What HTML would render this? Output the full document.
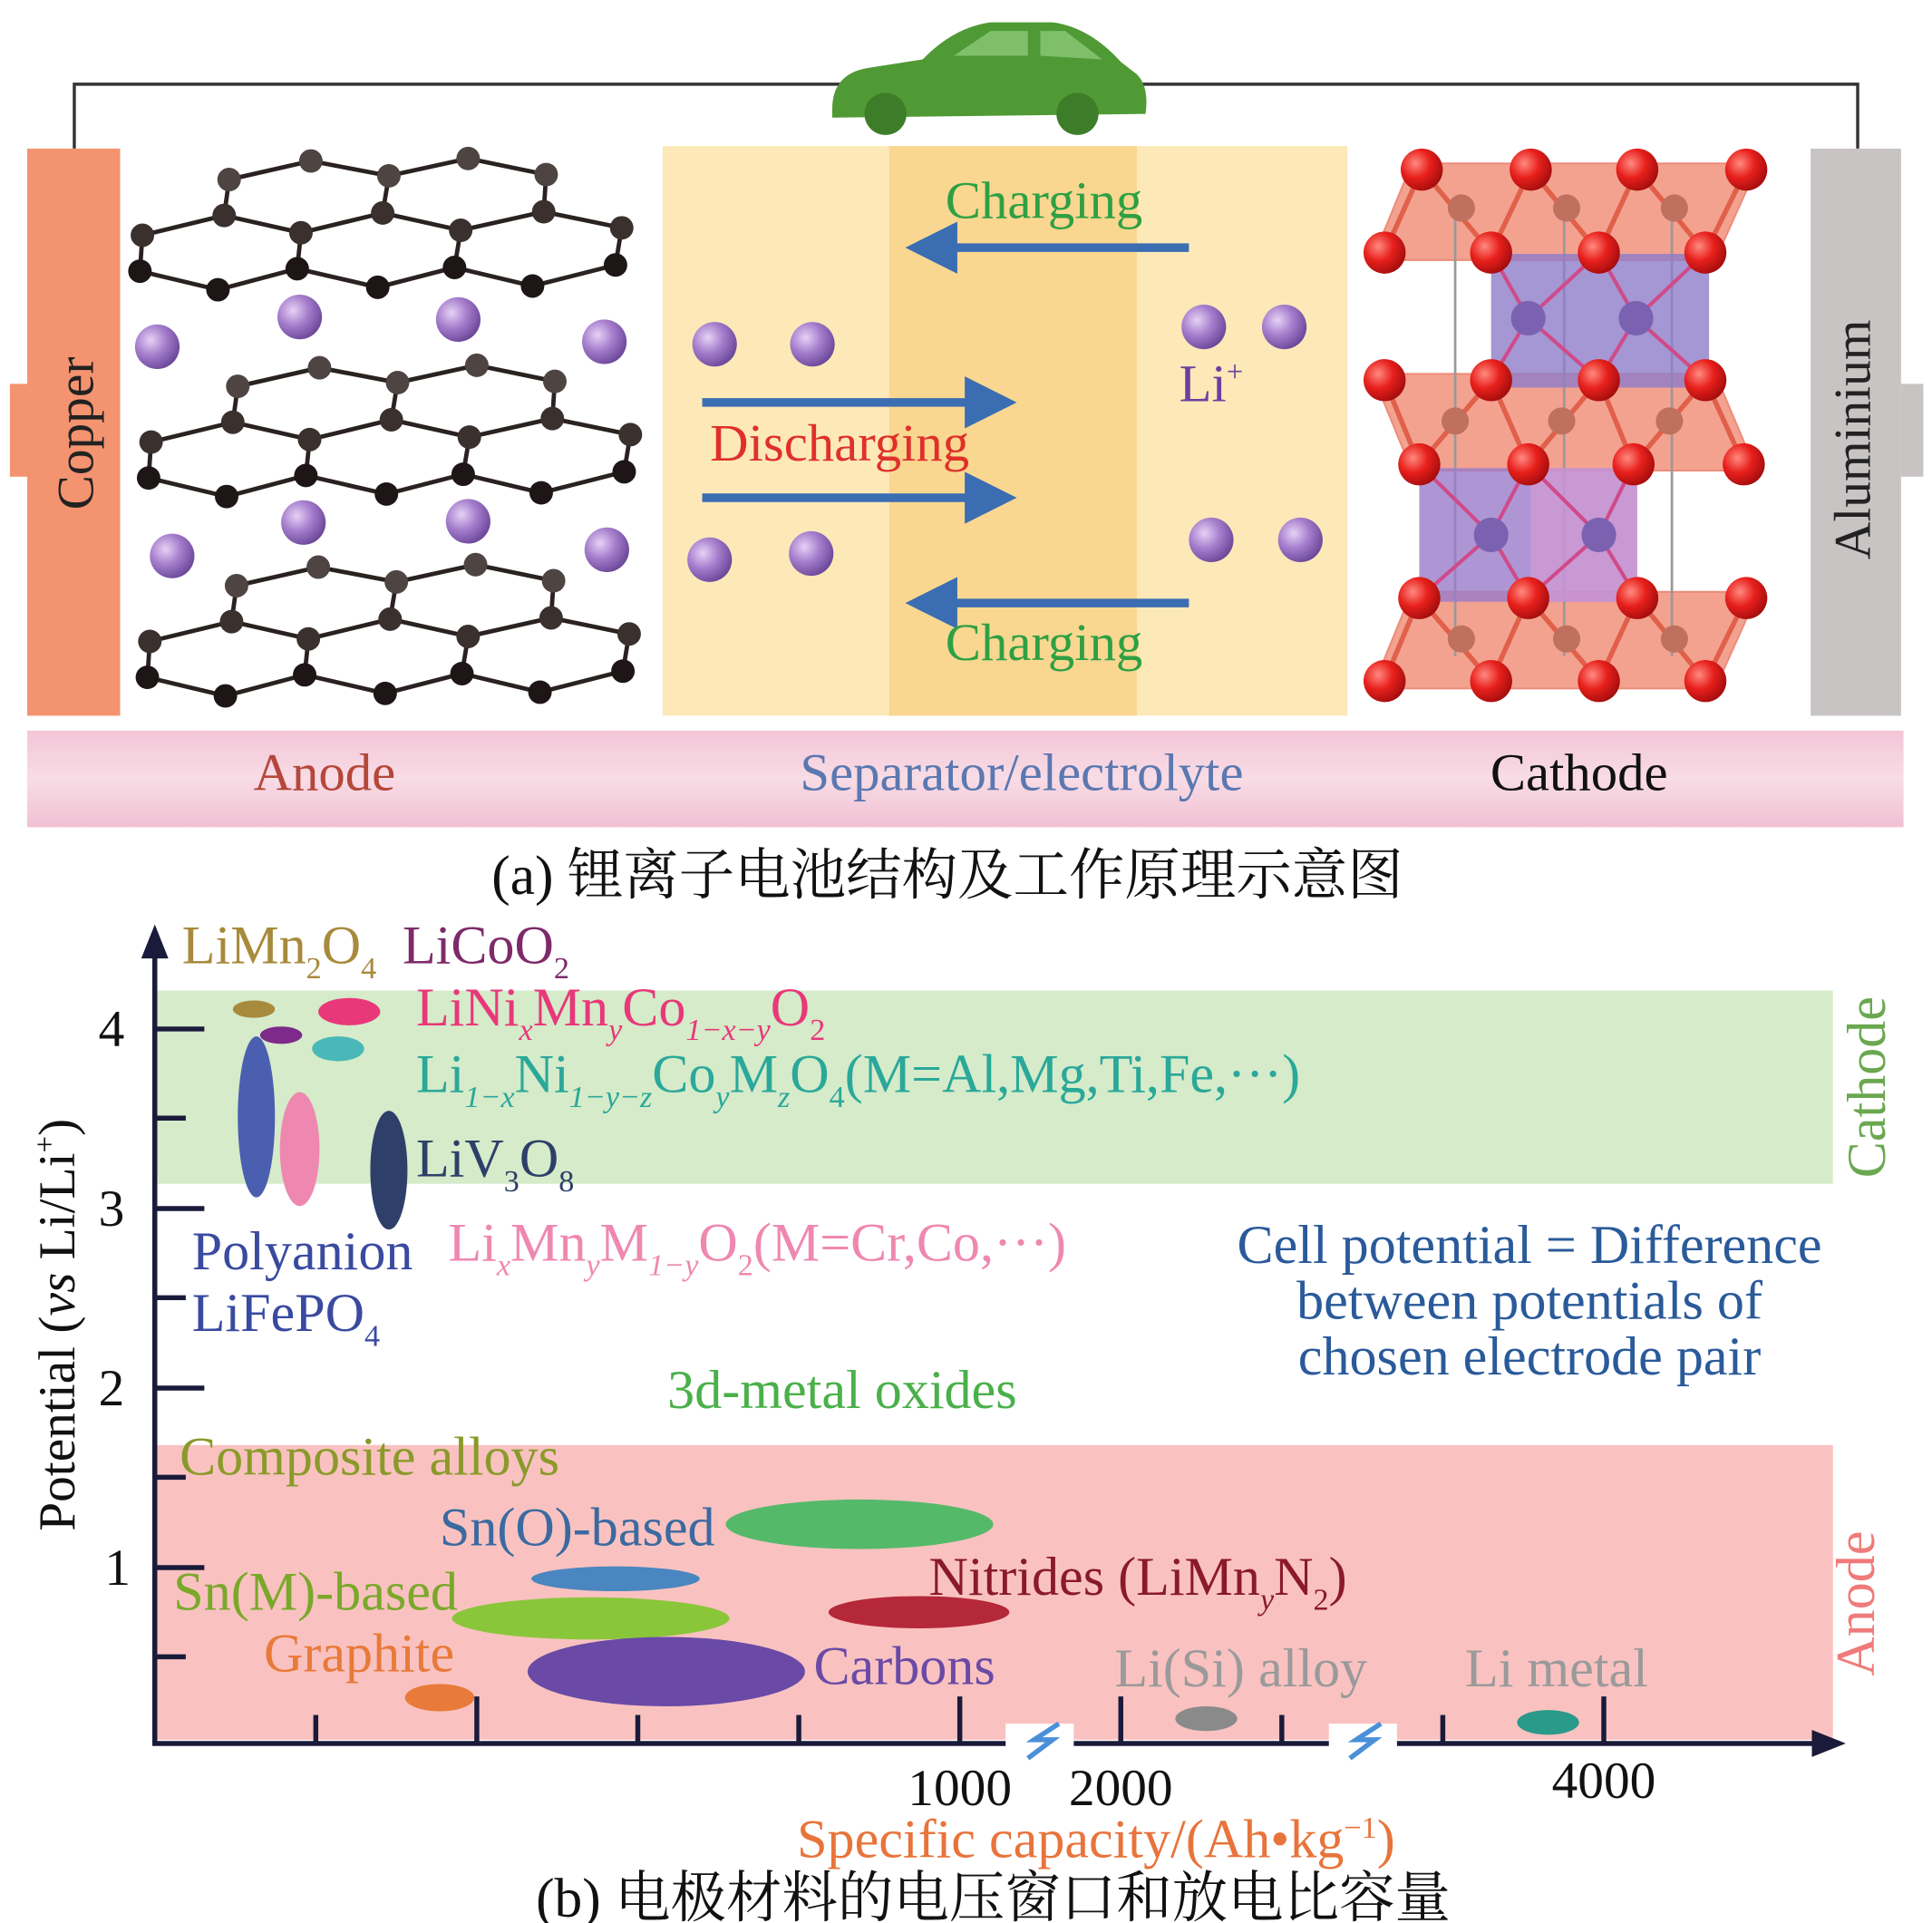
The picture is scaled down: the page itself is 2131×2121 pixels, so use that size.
<!DOCTYPE html>
<html><head><meta charset="utf-8"><style>
html,body{margin:0;padding:0;background:#fff}
svg{display:block}
text{font-family:"Liberation Serif","Noto Serif CJK SC",serif}
</style></head><body>
<svg width="2131" height="2121" viewBox="0 0 1560 1553" preserveAspectRatio="none" xmlns="http://www.w3.org/2000/svg">
<defs>
<radialGradient id="li" cx="35%" cy="35%" r="70%"><stop offset="0" stop-color="#e6d2f5"/><stop offset="0.5" stop-color="#a57dcc"/><stop offset="1" stop-color="#6b4799"/></radialGradient>
<radialGradient id="ox" cx="35%" cy="35%" r="70%"><stop offset="0" stop-color="#ff8a80"/><stop offset="0.5" stop-color="#e8201c"/><stop offset="1" stop-color="#a30d0d"/></radialGradient>
<linearGradient id="pk" x1="0" y1="0" x2="0" y2="1"><stop offset="0" stop-color="#f3c6d7"/><stop offset="0.5" stop-color="#f8dce6"/><stop offset="1" stop-color="#f1c0d2"/></linearGradient>
<marker id="ah" markerWidth="6" markerHeight="6" refX="3" refY="3" orient="auto"><path d="M0,0 L6,3 L0,6 z" fill="#3b6db3"/></marker>
<marker id="a1" markerUnits="userSpaceOnUse" markerWidth="24" markerHeight="24" refX="12" refY="12"><circle cx="12" cy="12" r="9.5" fill="#4e4442"/></marker>
<marker id="a2" markerUnits="userSpaceOnUse" markerWidth="24" markerHeight="24" refX="12" refY="12"><circle cx="12" cy="12" r="9.5" fill="#3a302e"/></marker>
<marker id="a3" markerUnits="userSpaceOnUse" markerWidth="24" markerHeight="24" refX="12" refY="12"><circle cx="12" cy="12" r="9.5" fill="#1e1616"/></marker>
<marker id="oxm" markerUnits="userSpaceOnUse" markerWidth="40" markerHeight="40" refX="20" refY="20"><circle cx="20" cy="20" r="17" fill="url(#ox)"/></marker>
<marker id="mm" markerUnits="userSpaceOnUse" markerWidth="30" markerHeight="30" refX="15" refY="15"><circle cx="15" cy="15" r="11" fill="#c0705e"/></marker>
<g id="layer" stroke="#2a2220" stroke-width="3.5" fill="none">
<path d="M185,145 L181,174 M314,142 L309,172 M441,141 L439,171 M115,190 L113,219 M243,188 L240,217 M372,186 L367,216 M502,184 L497,214"/>
<polyline points="185,145 251,130 314,142 378,128 441,141" marker-start="url(#a1)" marker-mid="url(#a1)" marker-end="url(#a1)"/>
<polyline points="115,190 181,174 243,188 309,172 372,186 439,171 502,184" marker-start="url(#a2)" marker-mid="url(#a2)" marker-end="url(#a2)"/>
<polyline points="113,219 176,234 240,217 305,232 367,216 430,231 497,214" marker-start="url(#a3)" marker-mid="url(#a3)" marker-end="url(#a3)"/>
</g>
</defs>
<rect width="1560" height="1553" fill="#fff"/>
<polyline points="60,120 60,68 1500,68 1500,120" fill="none" stroke="#333" stroke-width="2.5"/>
<g fill="#4f9a35">
<path d="M672,88 Q672,60 700,55 L745,48 Q770,22 800,18 L850,18 Q880,22 905,50 L918,60 Q928,70 925,92 L672,95 z"/>
<circle cx="715" cy="92" r="17" fill="#3d7d29"/><circle cx="870" cy="92" r="17" fill="#3d7d29"/>
<path d="M770,45 L800,25 L830,25 L830,45 z M840,45 L840,25 L860,25 L890,48 z" fill="#7fbf6a"/>
</g>
<rect x="8" y="310" width="16" height="75" fill="#f4936f"/>
<rect x="22" y="120" width="75" height="458" fill="#f4936f"/>
<text transform="translate(75,350) rotate(-90)" text-anchor="middle" font-size="42" fill="#222">Copper</text>
<rect x="1535" y="310" width="18" height="75" fill="#c8c4c4"/>
<rect x="1462" y="120" width="73" height="458" fill="#c8c4c4"/>
<text transform="translate(1510,355) rotate(-90)" text-anchor="middle" font-size="42" fill="#222">Aluminium</text>
<rect x="535" y="118" width="553" height="460" fill="#fde9b8"/>
<rect x="718" y="118" width="200" height="460" fill="#f9d790"/>
<use href="#layer"/>
<use href="#layer" transform="translate(7,167)"/>
<use href="#layer" transform="translate(6,328)"/>
<g fill="#f28b75" opacity="0.8" stroke="#e8705a" stroke-width="1.5">
<polygon points="1140,132 1420,132 1385,210 1108,210"/>
<polygon points="1108,302 1385,302 1418,380 1140,380"/>
<polygon points="1140,478 1420,478 1385,556 1108,556"/>
</g>
<g stroke="#e0604a" stroke-width="4">
<path d="M1148,137 L1118,204 M1148,137 L1204,204 M1236,137 L1204,204 M1236,137 L1291,204 M1322,137 L1291,204 M1322,137 L1377,204 M1410,137 L1377,204"/>
<path d="M1118,307 L1146,375 M1204,307 L1146,375 M1204,307 L1234,375 M1291,307 L1234,375 M1291,307 L1319,375 M1377,307 L1319,375 M1377,307 L1408,375"/>
<path d="M1146,483 L1118,550 M1146,483 L1204,550 M1234,483 L1204,550 M1234,483 L1291,550 M1322,483 L1291,550 M1322,483 L1377,550 M1410,483 L1377,550"/>
</g>
<g stroke="#999" stroke-width="2"><line x1="1175" y1="160" x2="1175" y2="530"/><line x1="1263" y1="160" x2="1263" y2="530"/><line x1="1350" y1="160" x2="1350" y2="530"/></g>
<rect x="1204" y="205" width="176" height="108" fill="#8e7cc9" opacity="0.8"/>
<rect x="1146" y="378" width="176" height="108" fill="#9a7cc9" opacity="0.8"/>
<rect x="1236" y="378" width="86" height="108" fill="#d49ad4" opacity="0.7"/>
<g stroke="#d04a8a" stroke-width="3">
<path d="M1234,257 L1204,204 M1234,257 L1291,204 M1234,257 L1204,307 M1234,257 L1291,307"/>
<path d="M1321,257 L1291,204 M1321,257 L1377,204 M1321,257 L1291,307 M1321,257 L1377,307"/>
<path d="M1204,432 L1146,375 M1204,432 L1234,375 M1204,432 L1146,483 M1204,432 L1234,483"/>
<path d="M1291,432 L1234,375 M1291,432 L1319,375 M1291,432 L1234,483 M1291,432 L1322,483"/>
</g>
<g fill="#7a62b0"><circle cx="1234" cy="257" r="14"/><circle cx="1321" cy="257" r="14"/><circle cx="1204" cy="432" r="14"/><circle cx="1291" cy="432" r="14"/></g>
<g stroke="none" fill="none">
<polyline points="1180,168 1265,168 1352,168" marker-start="url(#mm)" marker-mid="url(#mm)" marker-end="url(#mm)"/>
<polyline points="1175,340 1261,340 1348,340" marker-start="url(#mm)" marker-mid="url(#mm)" marker-end="url(#mm)"/>
<polyline points="1180,516 1265,516 1352,516" marker-start="url(#mm)" marker-mid="url(#mm)" marker-end="url(#mm)"/>
<polyline points="1148,137 1236,137 1322,137 1410,137" marker-start="url(#oxm)" marker-mid="url(#oxm)" marker-end="url(#oxm)"/>
<polyline points="1118,204 1204,204 1291,204 1377,204" marker-start="url(#oxm)" marker-mid="url(#oxm)" marker-end="url(#oxm)"/>
<polyline points="1118,307 1204,307 1291,307 1377,307" marker-start="url(#oxm)" marker-mid="url(#oxm)" marker-end="url(#oxm)"/>
<polyline points="1146,375 1234,375 1319,375 1408,375" marker-start="url(#oxm)" marker-mid="url(#oxm)" marker-end="url(#oxm)"/>
<polyline points="1146,483 1234,483 1322,483 1410,483" marker-start="url(#oxm)" marker-mid="url(#oxm)" marker-end="url(#oxm)"/>
<polyline points="1118,550 1204,550 1291,550 1377,550" marker-start="url(#oxm)" marker-mid="url(#oxm)" marker-end="url(#oxm)"/>
</g>
<g fill="url(#li)">
<circle cx="127" cy="280" r="18"/><circle cx="242" cy="256" r="18"/><circle cx="370" cy="258" r="18"/><circle cx="488" cy="276" r="18"/>
<circle cx="139" cy="449" r="18"/><circle cx="245" cy="422" r="18"/><circle cx="378" cy="421" r="18"/><circle cx="490" cy="444" r="18"/>
<circle cx="577" cy="278" r="18"/><circle cx="656" cy="278" r="18"/><circle cx="573" cy="452" r="18"/><circle cx="655" cy="447" r="18"/>
<circle cx="972" cy="264" r="18"/><circle cx="1037" cy="264" r="18"/><circle cx="978" cy="436" r="18"/><circle cx="1050" cy="436" r="18"/>
</g>
<g stroke="#3b6db3" stroke-width="7" marker-end="url(#ah)">
<line x1="960" y1="200" x2="752" y2="200"/>
<line x1="567" y1="325" x2="800" y2="325"/>
<line x1="567" y1="402" x2="800" y2="402"/>
<line x1="960" y1="487" x2="752" y2="487"/>
</g>
<g font-size="43" text-anchor="middle">
<text x="843" y="176" fill="#2ea043">Charging</text>
<text x="678" y="372" fill="#e0302a">Discharging</text>
<text x="843" y="533" fill="#2ea043">Charging</text>
<text x="978" y="324" fill="#6b3fa0">Li<tspan font-size="24" dy="-16">+</tspan></text>
</g>
<rect x="22" y="590" width="1515" height="78" fill="url(#pk)"/>
<g font-size="43" text-anchor="middle">
<text x="262" y="638" fill="#b5473a">Anode</text>
<text x="825" y="638" fill="#5b78b0">Separator/electrolyte</text>
<text x="1275" y="638" fill="#111">Cathode</text>
</g>
<text x="765" y="722" font-size="45" text-anchor="middle" fill="#111">(a) 锂离子电池结构及工作原理示意图</text>
<rect x="127" y="800" width="1353" height="156" fill="#d5ebc9"/>
<rect x="127" y="1167" width="1353" height="238" fill="#f9c2c0"/>
<g stroke="#1a1a3a" stroke-width="4" fill="none">
<line x1="125" y1="1408" x2="125" y2="765"/>
<line x1="123" y1="1408" x2="1470" y2="1408"/>
<path d="M117,772 L125,752 L133,772 z" fill="#1a1a3a"/>
<path d="M1465,1400 L1485,1408 L1465,1416 z" fill="#1a1a3a"/>
<line x1="125" y1="831" x2="165" y2="831"/><line x1="125" y1="903" x2="150" y2="903"/>
<line x1="125" y1="976" x2="165" y2="976"/><line x1="125" y1="1048" x2="150" y2="1048"/>
<line x1="125" y1="1121" x2="165" y2="1121"/><line x1="125" y1="1193" x2="150" y2="1193"/>
<line x1="125" y1="1266" x2="165" y2="1266"/><line x1="125" y1="1338" x2="150" y2="1338"/>
<line x1="255" y1="1408" x2="255" y2="1385"/><line x1="385" y1="1408" x2="385" y2="1370"/>
<line x1="515" y1="1408" x2="515" y2="1385"/><line x1="645" y1="1408" x2="645" y2="1385"/>
<line x1="775" y1="1408" x2="775" y2="1370"/><line x1="905" y1="1408" x2="905" y2="1370"/>
<line x1="1035" y1="1408" x2="1035" y2="1385"/><line x1="1165" y1="1408" x2="1165" y2="1385"/>
<line x1="1295" y1="1408" x2="1295" y2="1370"/>
</g>
<rect x="812" y="1392" width="55" height="32" fill="#fff"/>
<rect x="1073" y="1392" width="55" height="32" fill="#fff"/>
<path d="M830,1420 L850,1405 L835,1405 L855,1392" stroke="#4a90d9" stroke-width="4" fill="none"/>
<path d="M1090,1420 L1110,1405 L1095,1405 L1115,1392" stroke="#4a90d9" stroke-width="4" fill="none"/>
<g font-size="42" text-anchor="middle" fill="#111">
<text x="90" y="845">4</text><text x="90" y="990">3</text><text x="90" y="1135">2</text><text x="95" y="1280">1</text>
<text x="775" y="1458">1000</text><text x="905" y="1458">2000</text><text x="1295" y="1452">4000</text>
</g>
<text transform="translate(60,1070) rotate(-90)" text-anchor="middle" font-size="42" fill="#111">Potential (<tspan font-style="italic">vs</tspan> Li/Li<tspan font-size="24" dy="-16">+</tspan><tspan dy="16">)</tspan></text>
<text transform="translate(1522,878) rotate(-90)" text-anchor="middle" font-size="44" fill="#6aa84f">Cathode</text>
<text transform="translate(1513,1295) rotate(-90)" text-anchor="middle" font-size="44" fill="#f07a7a">Anode</text>
<ellipse cx="205" cy="815" rx="17" ry="7" fill="#a88a3c"/>
<ellipse cx="282" cy="817" rx="25" ry="11" fill="#e8387a"/>
<ellipse cx="227" cy="836" rx="17" ry="7" fill="#7d2a8a"/>
<ellipse cx="273" cy="847" rx="21" ry="10" fill="#4ab8b8"/>
<ellipse cx="207" cy="902" rx="15" ry="65" fill="#4a5fb0"/>
<ellipse cx="242" cy="928" rx="16" ry="46" fill="#ef88b0"/>
<ellipse cx="314" cy="945" rx="15" ry="48" fill="#2e3f6a"/>
<ellipse cx="694" cy="1231" rx="108" ry="20" fill="#55b96a"/>
<ellipse cx="497" cy="1275" rx="68" ry="10" fill="#4a86c0"/>
<ellipse cx="742" cy="1302" rx="73" ry="13" fill="#b5283a"/>
<ellipse cx="477" cy="1307" rx="112" ry="17" fill="#8ac63a"/>
<ellipse cx="538" cy="1350" rx="112" ry="28" fill="#6a4aa6"/>
<ellipse cx="355" cy="1371" rx="28" ry="11" fill="#e87a3a"/>
<ellipse cx="974" cy="1388" rx="25" ry="10" fill="#8a8a8a"/>
<ellipse cx="1250" cy="1391" rx="25" ry="10" fill="#2a9a8a"/>
<g font-size="44">
<text x="147" y="778" fill="#a88a3c">LiMn<tspan font-size="25" dy="12">2</tspan><tspan dy="-12">O</tspan><tspan font-size="25" dy="12">4</tspan></text>
<text x="325" y="778" fill="#7d2a6a">LiCoO<tspan font-size="25" dy="12">2</tspan></text>
<text x="336" y="828" fill="#e8387a">LiNi<tspan font-size="25" dy="12" font-style="italic">x</tspan><tspan dy="-12">Mn</tspan><tspan font-size="25" dy="12" font-style="italic">y</tspan><tspan dy="-12">Co</tspan><tspan font-size="25" dy="12" font-style="italic">1−x−y</tspan><tspan dy="-12">O</tspan><tspan font-size="25" dy="12">2</tspan></text>
<text x="336" y="882" fill="#2aa89a">Li<tspan font-size="25" dy="12" font-style="italic">1−x</tspan><tspan dy="-12">Ni</tspan><tspan font-size="25" dy="12" font-style="italic">1−y−z</tspan><tspan dy="-12">Co</tspan><tspan font-size="25" dy="12" font-style="italic">y</tspan><tspan dy="-12">M</tspan><tspan font-size="25" dy="12" font-style="italic">z</tspan><tspan dy="-12">O</tspan><tspan font-size="25" dy="12">4</tspan><tspan dy="-12">(M=Al,Mg,Ti,Fe,···)</tspan></text>
<text x="336" y="950" fill="#2e3f6a">LiV<tspan font-size="25" dy="12">3</tspan><tspan dy="-12">O</tspan><tspan font-size="25" dy="12">8</tspan></text>
<text x="155" y="1025" fill="#3a4aa0">Polyanion</text>
<text x="155" y="1075" fill="#3a4aa0">LiFePO<tspan font-size="25" dy="12">4</tspan></text>
<text x="362" y="1018" fill="#ef88b0">Li<tspan font-size="25" dy="12" font-style="italic">x</tspan><tspan dy="-12">Mn</tspan><tspan font-size="25" dy="12" font-style="italic">y</tspan><tspan dy="-12">M</tspan><tspan font-size="25" dy="12" font-style="italic">1−y</tspan><tspan dy="-12">O</tspan><tspan font-size="25" dy="12">2</tspan><tspan dy="-12">(M=Cr,Co,···)</tspan></text>
<g fill="#2a5a9a" text-anchor="middle"><text x="1235" y="1020">Cell potential = Difference</text><text x="1235" y="1065">between potentials of</text><text x="1235" y="1110">chosen electrode pair</text></g>
<text x="680" y="1137" text-anchor="middle" fill="#4ab04a">3d-metal oxides</text>
<text x="145" y="1191" fill="#8a9a2a">Composite alloys</text>
<text x="355" y="1248" fill="#3a6aa0">Sn(O)-based</text>
<text x="750" y="1288" fill="#8a1a2a">Nitrides (LiMn<tspan font-size="25" dy="12" font-style="italic">y</tspan><tspan dy="-12">N</tspan><tspan font-size="25" dy="12">2</tspan><tspan dy="-12">)</tspan></text>
<text x="140" y="1300" fill="#7aa82a">Sn(M)-based</text>
<text x="213" y="1350" fill="#e87a3a">Graphite</text>
<text x="657" y="1360" fill="#6a4aa6">Carbons</text>
<text x="900" y="1362" fill="#9a9a9a">Li(Si) alloy</text>
<text x="1183" y="1362" fill="#9a9a9a">Li metal</text>
<text x="885" y="1500" text-anchor="middle" fill="#e8743b">Specific capacity/(Ah•kg<tspan font-size="25" dy="-16">−1</tspan><tspan dy="16">)</tspan></text>
<text x="802" y="1548" text-anchor="middle" fill="#111" font-size="45">(b) 电极材料的电压窗口和放电比容量</text>
</g>
</svg>
</body></html>
